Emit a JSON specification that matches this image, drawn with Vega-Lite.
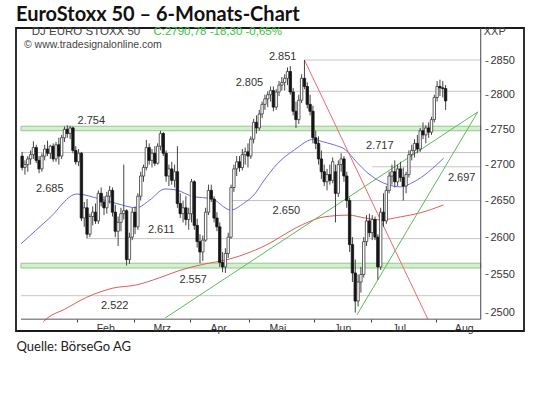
{
  "$schema": "https://vega.github.io/schema/vega-lite/v6.json",
  "width": 508,
  "height": 303,
  "autosize": {"type": "none"},
  "padding": {"left": 16, "top": 28, "right": 16, "bottom": 79},
  "background": "white",
  "config": {"view": {"stroke": "#1a1a1a", "strokeWidth": 1.8}, "font": "Liberation Sans"},
  "title": {"text": "EuroStoxx 50 – 6-Monats-Chart", "anchor": "start", "frame": "group", "font": "Lato", "fontSize": 20, "fontWeight": "bold", "color": "#111", "offset": 1},
  "data": {"values": [{"one": 1}]},
  "datasets": {
    "ohlc": [
      {"t":0,"o":2712,"h":2718,"l":2692,"c":2696},{"t":1,"o":2696,"h":2706,"l":2686,"c":2700},{"t":2,"o":2700,"h":2712,"l":2690,"c":2708},{"t":3,"o":2708,"h":2720,"l":2700,"c":2714},{"t":4,"o":2714,"h":2733,"l":2708,"c":2724},
      {"t":5,"o":2724,"h":2728,"l":2702,"c":2706},{"t":6,"o":2706,"h":2712,"l":2688,"c":2694},{"t":7,"o":2694,"h":2716,"l":2690,"c":2712},{"t":8,"o":2712,"h":2728,"l":2706,"c":2722},{"t":9,"o":2722,"h":2734,"l":2712,"c":2716},
      {"t":10,"o":2716,"h":2728,"l":2708,"c":2726},{"t":11,"o":2726,"h":2730,"l":2704,"c":2708},{"t":12,"o":2708,"h":2732,"l":2704,"c":2728},{"t":13,"o":2728,"h":2738,"l":2700,"c":2712},{"t":14,"o":2712,"h":2742,"l":2708,"c":2738},
      {"t":15,"o":2738,"h":2754,"l":2732,"c":2750},{"t":16,"o":2750,"h":2756,"l":2738,"c":2744},{"t":17,"o":2744,"h":2755,"l":2736,"c":2752},{"t":18,"o":2752,"h":2754,"l":2716,"c":2720},{"t":19,"o":2720,"h":2726,"l":2700,"c":2704},
      {"t":20,"o":2704,"h":2722,"l":2698,"c":2716},{"t":21,"o":2716,"h":2718,"l":2622,"c":2626},{"t":22,"o":2626,"h":2648,"l":2614,"c":2640},{"t":23,"o":2640,"h":2652,"l":2598,"c":2604},{"t":24,"o":2604,"h":2632,"l":2600,"c":2628},
      {"t":25,"o":2628,"h":2642,"l":2616,"c":2634},{"t":26,"o":2634,"h":2646,"l":2618,"c":2622},{"t":27,"o":2622,"h":2664,"l":2618,"c":2660},{"t":28,"o":2660,"h":2668,"l":2642,"c":2648},{"t":29,"o":2648,"h":2656,"l":2630,"c":2640},
      {"t":30,"o":2640,"h":2662,"l":2632,"c":2656},{"t":31,"o":2656,"h":2670,"l":2646,"c":2664},{"t":32,"o":2664,"h":2668,"l":2628,"c":2634},{"t":33,"o":2634,"h":2644,"l":2600,"c":2608},{"t":34,"o":2608,"h":2628,"l":2588,"c":2620},
      {"t":35,"o":2620,"h":2640,"l":2608,"c":2632},{"t":36,"o":2632,"h":2700,"l":2624,"c":2636},{"t":37,"o":2636,"h":2638,"l":2562,"c":2570},{"t":38,"o":2570,"h":2606,"l":2564,"c":2600},{"t":39,"o":2600,"h":2640,"l":2596,"c":2634},
      {"t":40,"o":2634,"h":2642,"l":2604,"c":2614},{"t":41,"o":2614,"h":2660,"l":2610,"c":2656},{"t":42,"o":2656,"h":2690,"l":2650,"c":2684},{"t":43,"o":2684,"h":2700,"l":2676,"c":2696},{"t":44,"o":2696,"h":2735,"l":2692,"c":2724},
      {"t":45,"o":2724,"h":2730,"l":2700,"c":2706},{"t":46,"o":2706,"h":2722,"l":2696,"c":2716},{"t":47,"o":2716,"h":2726,"l":2698,"c":2702},{"t":48,"o":2702,"h":2730,"l":2700,"c":2726},{"t":49,"o":2726,"h":2748,"l":2720,"c":2744},
      {"t":50,"o":2744,"h":2746,"l":2712,"c":2716},{"t":51,"o":2716,"h":2720,"l":2676,"c":2684},{"t":52,"o":2684,"h":2700,"l":2670,"c":2694},{"t":53,"o":2694,"h":2704,"l":2672,"c":2678},{"t":54,"o":2678,"h":2700,"l":2668,"c":2690},
      {"t":55,"o":2690,"h":2726,"l":2640,"c":2646},{"t":56,"o":2646,"h":2660,"l":2626,"c":2632},{"t":57,"o":2632,"h":2650,"l":2620,"c":2640},{"t":58,"o":2640,"h":2656,"l":2616,"c":2624},{"t":59,"o":2624,"h":2640,"l":2610,"c":2632},
      {"t":60,"o":2632,"h":2680,"l":2620,"c":2676},{"t":61,"o":2676,"h":2678,"l":2610,"c":2616},{"t":62,"o":2616,"h":2625,"l":2586,"c":2594},{"t":63,"o":2594,"h":2604,"l":2565,"c":2580},{"t":64,"o":2580,"h":2602,"l":2568,"c":2596},
      {"t":65,"o":2596,"h":2640,"l":2594,"c":2634},{"t":66,"o":2634,"h":2672,"l":2630,"c":2664},{"t":67,"o":2664,"h":2672,"l":2648,"c":2652},{"t":68,"o":2652,"h":2656,"l":2620,"c":2626},{"t":69,"o":2626,"h":2634,"l":2608,"c":2614},
      {"t":70,"o":2614,"h":2620,"l":2560,"c":2566},{"t":71,"o":2566,"h":2580,"l":2553,"c":2560},{"t":72,"o":2560,"h":2585,"l":2552,"c":2578},{"t":73,"o":2578,"h":2606,"l":2572,"c":2600},{"t":74,"o":2600,"h":2672,"l":2598,"c":2668},
      {"t":75,"o":2668,"h":2700,"l":2662,"c":2694},{"t":76,"o":2694,"h":2712,"l":2684,"c":2704},{"t":77,"o":2704,"h":2712,"l":2690,"c":2696},{"t":78,"o":2696,"h":2722,"l":2692,"c":2714},{"t":79,"o":2714,"h":2724,"l":2700,"c":2718},
      {"t":80,"o":2718,"h":2730,"l":2696,"c":2712},{"t":81,"o":2712,"h":2740,"l":2708,"c":2736},{"t":82,"o":2736,"h":2765,"l":2730,"c":2760},{"t":83,"o":2760,"h":2770,"l":2744,"c":2752},{"t":84,"o":2752,"h":2778,"l":2748,"c":2772},
      {"t":85,"o":2772,"h":2790,"l":2766,"c":2786},{"t":86,"o":2786,"h":2800,"l":2778,"c":2794},{"t":87,"o":2794,"h":2805,"l":2782,"c":2800},{"t":88,"o":2800,"h":2812,"l":2790,"c":2806},{"t":89,"o":2806,"h":2812,"l":2776,"c":2782},
      {"t":90,"o":2782,"h":2808,"l":2778,"c":2804},{"t":91,"o":2804,"h":2820,"l":2798,"c":2814},{"t":92,"o":2814,"h":2826,"l":2806,"c":2818},{"t":93,"o":2818,"h":2830,"l":2806,"c":2824},{"t":94,"o":2824,"h":2840,"l":2814,"c":2834},
      {"t":95,"o":2834,"h":2842,"l":2800,"c":2804},{"t":96,"o":2804,"h":2810,"l":2770,"c":2776},{"t":97,"o":2776,"h":2790,"l":2752,"c":2764},{"t":98,"o":2764,"h":2800,"l":2758,"c":2792},{"t":99,"o":2792,"h":2830,"l":2788,"c":2824},
      {"t":100,"o":2824,"h":2851,"l":2808,"c":2812},{"t":101,"o":2812,"h":2818,"l":2780,"c":2786},{"t":102,"o":2786,"h":2800,"l":2770,"c":2776},{"t":103,"o":2776,"h":2784,"l":2730,"c":2738},{"t":104,"o":2738,"h":2748,"l":2722,"c":2730},
      {"t":105,"o":2730,"h":2740,"l":2700,"c":2708},{"t":106,"o":2708,"h":2720,"l":2680,"c":2690},{"t":107,"o":2690,"h":2700,"l":2670,"c":2676},{"t":108,"o":2676,"h":2694,"l":2664,"c":2686},{"t":109,"o":2686,"h":2700,"l":2672,"c":2678},
      {"t":110,"o":2678,"h":2710,"l":2674,"c":2704},{"t":111,"o":2690,"h":2700,"l":2620,"c":2660},{"t":112,"o":2660,"h":2706,"l":2655,"c":2700},{"t":113,"o":2700,"h":2716,"l":2690,"c":2708},{"t":114,"o":2708,"h":2712,"l":2676,"c":2684},
      {"t":115,"o":2684,"h":2690,"l":2640,"c":2650},{"t":116,"o":2650,"h":2654,"l":2580,"c":2590},{"t":117,"o":2590,"h":2600,"l":2540,"c":2552},{"t":118,"o":2552,"h":2570,"l":2500,"c":2515},{"t":119,"o":2515,"h":2550,"l":2508,"c":2540},
      {"t":120,"o":2540,"h":2560,"l":2526,"c":2550},{"t":121,"o":2550,"h":2600,"l":2546,"c":2594},{"t":122,"o":2594,"h":2630,"l":2588,"c":2622},{"t":123,"o":2622,"h":2632,"l":2600,"c":2606},{"t":124,"o":2606,"h":2630,"l":2596,"c":2624},
      {"t":125,"o":2624,"h":2628,"l":2596,"c":2600},{"t":126,"o":2600,"h":2604,"l":2543,"c":2560},{"t":127,"o":2560,"h":2640,"l":2556,"c":2634},{"t":128,"o":2634,"h":2660,"l":2614,"c":2622},{"t":129,"o":2622,"h":2670,"l":2618,"c":2664},
      {"t":130,"o":2664,"h":2690,"l":2660,"c":2684},{"t":131,"o":2684,"h":2700,"l":2672,"c":2690},{"t":132,"o":2690,"h":2706,"l":2668,"c":2676},{"t":133,"o":2676,"h":2700,"l":2670,"c":2694},{"t":134,"o":2694,"h":2704,"l":2676,"c":2682},
      {"t":135,"o":2682,"h":2696,"l":2650,"c":2670},{"t":136,"o":2670,"h":2690,"l":2660,"c":2686},{"t":137,"o":2686,"h":2720,"l":2682,"c":2714},{"t":138,"o":2714,"h":2728,"l":2706,"c":2720},{"t":139,"o":2720,"h":2736,"l":2710,"c":2730},
      {"t":140,"o":2730,"h":2742,"l":2716,"c":2722},{"t":141,"o":2722,"h":2752,"l":2718,"c":2748},{"t":142,"o":2748,"h":2760,"l":2736,"c":2742},{"t":143,"o":2742,"h":2756,"l":2730,"c":2752},{"t":144,"o":2752,"h":2760,"l":2738,"c":2746},
      {"t":145,"o":2746,"h":2768,"l":2742,"c":2764},{"t":146,"o":2764,"h":2800,"l":2760,"c":2796},{"t":147,"o":2796,"h":2820,"l":2790,"c":2812},{"t":148,"o":2812,"h":2822,"l":2798,"c":2810},{"t":149,"o":2810,"h":2820,"l":2796,"c":2809},
      {"t":150,"o":2809,"h":2814,"l":2778,"c":2791}
    ],
    "ma": [
      {"s":"ma1","t":-0.4,"v":2591},{"s":"ma1","t":9.7,"v":2626},{"s":"ma1","t":19.4,"v":2659},{"s":"ma1","t":27.7,"v":2652},{"s":"ma1","t":33.4,"v":2646},{"s":"ma1","t":40.6,"v":2640},{"s":"ma1","t":45,"v":2650},{"s":"ma1","t":50.6,"v":2666},{"s":"ma1","t":54.1,"v":2665},{"s":"ma1","t":61,"v":2655},{"s":"ma1","t":66.9,"v":2653},{"s":"ma1","t":73.9,"v":2637},{"s":"ma1","t":78.4,"v":2646},{"s":"ma1","t":82.6,"v":2660},{"s":"ma1","t":85,"v":2674},{"s":"ma1","t":90.6,"v":2702},{"s":"ma1","t":96.5,"v":2721},{"s":"ma1","t":103.4,"v":2736},{"s":"ma1","t":105.9,"v":2733},{"s":"ma1","t":110.4,"v":2728},{"s":"ma1","t":114.5,"v":2721},{"s":"ma1","t":118.4,"v":2704},{"s":"ma1","t":122.5,"v":2688},{"s":"ma1","t":129.5,"v":2672},{"s":"ma1","t":134,"v":2669},{"s":"ma1","t":138.8,"v":2676},{"s":"ma1","t":149.3,"v":2709},
      {"s":"ma2","t":7.5,"v":2488},{"s":"ma2","t":9,"v":2493},{"s":"ma2","t":14.9,"v":2504},{"s":"ma2","t":22.9,"v":2520},{"s":"ma2","t":32.2,"v":2532},{"s":"ma2","t":40.2,"v":2536},{"s":"ma2","t":48.6,"v":2545.5},{"s":"ma2","t":55.5,"v":2555},{"s":"ma2","t":63.5,"v":2563},{"s":"ma2","t":72.9,"v":2570},{"s":"ma2","t":80.9,"v":2580},{"s":"ma2","t":87.8,"v":2592},{"s":"ma2","t":91.3,"v":2600},{"s":"ma2","t":99.3,"v":2617},{"s":"ma2","t":107.6,"v":2628},{"s":"ma2","t":115.6,"v":2630},{"s":"ma2","t":121.5,"v":2626},{"s":"ma2","t":127,"v":2623.5},{"s":"ma2","t":134,"v":2627.6},{"s":"ma2","t":140.9,"v":2633},{"s":"ma2","t":149.3,"v":2644}
    ],
    "trend": [
      {"s":"g1","t":50.7,"v":2493},{"s":"g1","t":161.4,"v":2775},
      {"s":"g2","t":118.6,"v":2497},{"s":"g2","t":161.4,"v":2775},
      {"s":"r1","t":100,"v":2851},{"s":"r1","t":143.7,"v":2491.5}
    ],
    "levels": [
      {"v":2851,"from":100},{"v":2805,"from":94},{"v":2717,"from":-0.4},{"v":2697,"from":124},{"v":2650,"from":74},{"v":2598,"from":23.2},{"v":2522,"from":-0.4}
    ],
    "bands": [{"lo":2748,"hi":2754.5},{"lo":2558.6,"hi":2565}],
    "notes": [
      {"label":"2.851","t":92.3,"v":2855.5},{"label":"2.805","t":80.5,"v":2817},{"label":"2.754","t":24.5,"v":2761.6},{"label":"2.685","t":9.8,"v":2665.7},{"label":"2.611","t":49.3,"v":2610},
      {"label":"2.557","t":60.6,"v":2543.1},{"label":"2.522","t":32.8,"v":2509},{"label":"2.650","t":93.6,"v":2636.2},{"label":"2.717","t":126.7,"v":2726.3},{"label":"2.697","t":155.7,"v":2681}
    ]
  },
  "layer": [
    {
      "data": {"name": "bands"},
      "mark": {"type": "rect", "fill": "#d6edd0", "stroke": "#8fcb8a", "strokeWidth": 1},
      "encoding": {
        "x": {"datum": -0.4, "type": "quantitative", "scale": {"domain": [-0.4, 176.0], "nice": false, "zero": false}},
        "x2": {"datum": 162.45},
        "y": {"field": "lo", "type": "quantitative", "scale": {"type": "log", "domain": [2476.1, 2898.9], "nice": false, "zero": false}},
        "y2": {"field": "hi"}
      }
    },
    {
      "data": {"name": "levels"},
      "mark": {"type": "rule", "color": "#c4c4c4", "strokeWidth": 1},
      "encoding": {
        "x": {"field": "from", "type": "quantitative"},
        "x2": {"datum": 162.45},
        "y": {"field": "v", "type": "quantitative"}
      }
    },
    {
      "data": {"name": "ma"},
      "mark": {"type": "line", "strokeWidth": 1, "clip": true, "interpolate": "monotone"},
      "encoding": {
        "x": {"field": "t", "type": "quantitative"},
        "y": {"field": "v", "type": "quantitative"},
        "color": {"field": "s", "type": "nominal", "scale": {"domain": ["ma1","ma2","g1","g2","r1"], "range": ["#6a6ae8","#e35b5b","#5cb85c","#5cb85c","#ee6a6a"]}, "legend": null},
        "detail": {"field": "s"}
      }
    },
    {
      "data": {"name": "trend"},
      "mark": {"type": "line", "strokeWidth": 1, "clip": true},
      "encoding": {
        "x": {"field": "t", "type": "quantitative"},
        "y": {"field": "v", "type": "quantitative"},
        "color": {"field": "s", "type": "nominal", "legend": null},
        "detail": {"field": "s"}
      }
    },
    {
      "data": {"name": "ohlc"},
      "mark": {"type": "rule", "color": "#444", "strokeWidth": 1},
      "encoding": {
        "x": {"field": "t", "type": "quantitative",
          "axis": {"orient": "bottom", "offset": -12, "values": [19.5,39.5,59.5,80.5,103.5,123.5,146.5],
            "labelExpr": "['Feb','Mrz','Apr','Mai','Jun','Jul','Aug'][indexof([19.5,39.5,59.5,80.5,103.5,123.5,146.5], datum.value)]",
            "labelOffset": 28, "domain": false, "grid": false, "ticks": true, "tickSize": 3, "tickColor": "#444", "labelFontSize": 10.5, "labelColor": "#333", "labelPadding": 1, "labelFlush": false, "labelOverlap": false,
            "title": "Quelle: BörseGo AG", "titleAnchor": "start", "titleAlign": "left", "titleFont": "Lato", "titleFontSize": 13, "titleFontWeight": "normal", "titleColor": "#222", "titlePadding": 7}},
        "y": {"field": "l", "type": "quantitative",
          "axis": {"orient": "right", "offset": -39, "values": [2500,2550,2600,2650,2700,2750,2800,2850], "format": "d", "domain": false, "grid": false, "ticks": true, "tickSize": 3, "tickColor": "#666", "labelPadding": 2, "labelFontSize": 11, "labelColor": "#333", "labelFlush": false, "labelOverlap": false, "title": null}},
        "y2": {"field": "h"}
      }
    },
    {
      "data": {"name": "ohlc"},
      "mark": {"type": "bar", "width": 2.4, "strokeWidth": 0.8},
      "encoding": {
        "x": {"field": "t", "type": "quantitative"},
        "y": {"field": "o", "type": "quantitative"},
        "y2": {"field": "c"},
        "fill": {"condition": {"test": "datum.c < datum.o", "value": "#151515"}, "value": "#ffffff"},
        "stroke": {"condition": {"test": "datum.c < datum.o", "value": "#151515"}, "value": "#3a3a3a"}
      }
    },
    {
      "mark": {"type": "rule", "color": "#444", "strokeWidth": 1},
      "encoding": {
        "x": {"datum": 162.45, "type": "quantitative"},
        "y": {"datum": 2898.9, "type": "quantitative"},
        "y2": {"datum": 2491.4}
      }
    },
    {
      "mark": {"type": "rule", "color": "#555", "strokeWidth": 1},
      "encoding": {
        "x": {"datum": -0.4, "type": "quantitative"},
        "x2": {"datum": 162.45},
        "y": {"datum": 2491.4, "type": "quantitative"}
      }
    },
    {
      "data": {"name": "notes"},
      "mark": {"type": "text", "fontSize": 11, "color": "#333", "align": "center", "baseline": "middle"},
      "encoding": {
        "x": {"field": "t", "type": "quantitative"},
        "y": {"field": "v", "type": "quantitative"},
        "text": {"field": "label"}
      }
    },
    {
      "mark": {"type": "text", "fontSize": 11.5, "color": "#444", "align": "left", "baseline": "middle"},
      "encoding": {
        "x": {"datum": 3.42, "type": "quantitative"},
        "y": {"datum": 2892.5, "type": "quantitative"},
        "text": {"value": "DJ EURO STOXX 50"}
      }
    },
    {
      "mark": {"type": "text", "fontSize": 11.5, "color": "#3cc23c", "align": "left", "baseline": "middle"},
      "encoding": {
        "x": {"datum": 46.5, "type": "quantitative"},
        "y": {"datum": 2892.5, "type": "quantitative"},
        "text": {"value": "C:2790,78 -18,30 -0,65%"}
      }
    },
    {
      "mark": {"type": "text", "fontSize": 10.5, "color": "#444", "align": "left", "baseline": "middle"},
      "encoding": {
        "x": {"datum": 0.65, "type": "quantitative"},
        "y": {"datum": 2873.5, "type": "quantitative"},
        "text": {"value": "© www.tradesignalonline.com"}
      }
    },
    {
      "mark": {"type": "text", "fontSize": 11, "color": "#444", "align": "left", "baseline": "middle"},
      "encoding": {
        "x": {"datum": 163.5, "type": "quantitative"},
        "y": {"datum": 2892.5, "type": "quantitative"},
        "text": {"value": "XXP"}
      }
    }
  ]
}
